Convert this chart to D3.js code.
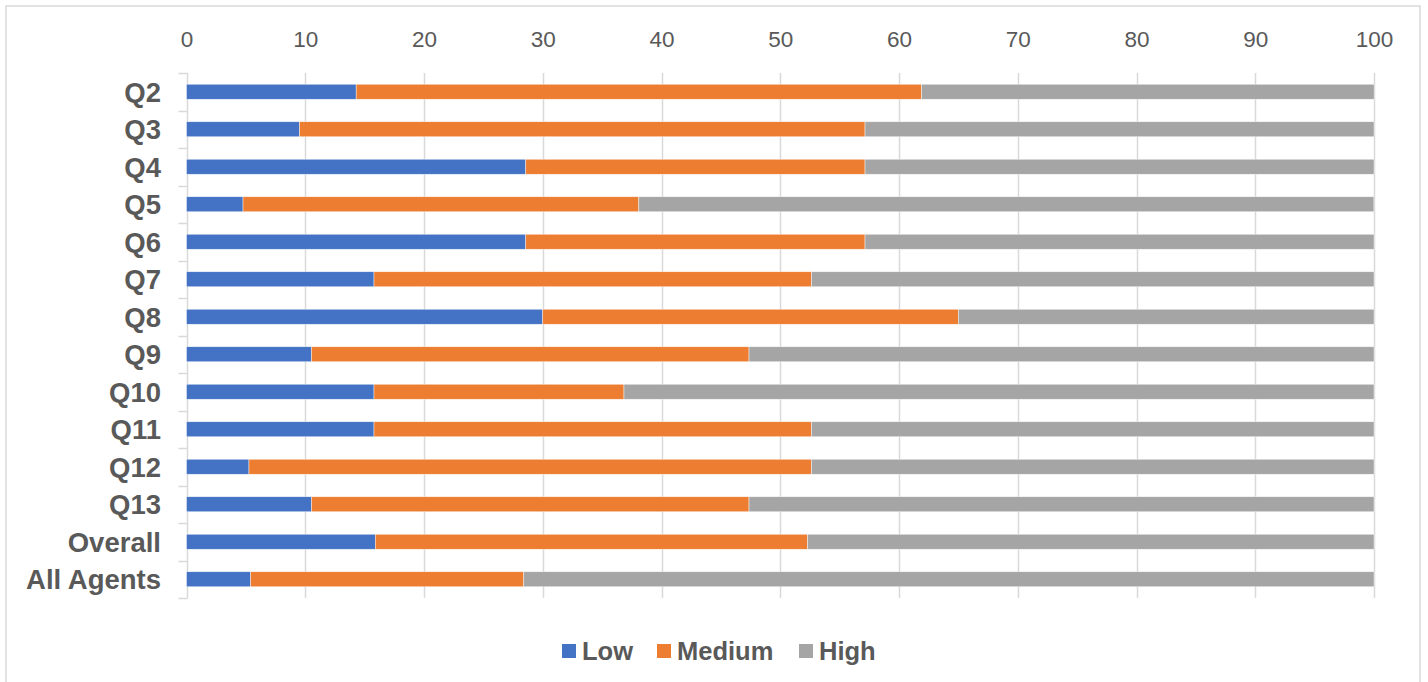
<!DOCTYPE html>
<html>
<head>
<meta charset="utf-8">
<script src="https://cdn.jsdelivr.net/npm/d3@7"></script>
<style>
  html, body { margin: 0; padding: 0; background: #fff; }
  svg { display: block; }
</style>
</head>
<body>
<svg id="chart" width="1428" height="682"></svg>
<script>
const categories = ["Q2","Q3","Q4","Q5","Q6","Q7","Q8","Q9","Q10","Q11","Q12","Q13","Overall","All Agents"];
const low    = [14.29, 9.52, 28.57, 4.76, 28.57, 15.79, 30, 10.53, 15.79, 15.79, 5.26, 10.53, 15.9, 5.4];
const medium = [47.62, 47.62, 28.57, 33.33, 28.57, 36.84, 35, 36.84, 21.05, 36.84, 47.37, 36.84, 36.4, 23.0];
const high   = [38.10, 42.86, 42.86, 61.90, 42.86, 47.37, 35, 52.63, 63.16, 47.37, 47.37, 52.63, 47.7, 71.6];
const seriesNames = ["Low", "Medium", "High"];
const seriesColors = ["#4472C4", "#ED7D31", "#A5A5A5"];
const xTicks = [0,10,20,30,40,50,60,70,80,90,100];

(function () {
const rows = categories.map((c, i) => ({cat: c, Low: low[i], Medium: medium[i], High: high[i]}));
const stacked = d3.stack().keys(seriesNames)(rows);

const svg = d3.select("#chart");

// outer border (bottom edge falls outside the picture)
svg.append("rect").attr("x", 6).attr("y", 6).attr("width", 1414).attr("height", 690)
  .attr("fill", "#fff").attr("stroke", "#d9d9d9").attr("stroke-width", 1.5);

const pL = 186.5, pR = 1374, pT = 73, pB = 598;
const x = d3.scaleLinear().domain([0, 100]).range([pL, pR]);
const y = d3.scaleBand().domain(categories).range([pT, pB]).paddingInner(0.6).paddingOuter(0.3);
const yb = d3.scaleBand().domain(categories).range([pT, pB]);

// gridlines
svg.append("g").selectAll("line").data(xTicks.slice(1)).join("line")
  .attr("x1", d => Math.round(x(d)) + 0.5).attr("x2", d => Math.round(x(d)) + 0.5)
  .attr("y1", pT).attr("y2", pB)
  .attr("stroke", "#d9d9d9").attr("stroke-width", 1.5);

// top axis labels
const xAxis = d3.axisTop(x).tickValues(xTicks).tickSize(0).tickPadding(0);
const gx = svg.append("g").attr("transform", `translate(0, ${47})`).call(xAxis);
gx.select(".domain").remove();
gx.selectAll("text").attr("font-family", "'Liberation Sans', Arial, sans-serif")
  .attr("font-size", 22.5).attr("fill", "#595959");

// left axis line and ticks at band boundaries
const axisX = Math.round(pL) + 0.5;
svg.append("line").attr("x1", axisX).attr("x2", axisX).attr("y1", pT).attr("y2", pB)
  .attr("stroke", "#d9d9d9").attr("stroke-width", 1.5);
const boundaries = categories.map(c => yb(c)).concat([pB]);
svg.append("g").selectAll("line").data(boundaries).join("line")
  .attr("x1", axisX - 9).attr("x2", axisX).attr("y1", d => Math.round(d) + 0.5).attr("y2", d => Math.round(d) + 0.5)
  .attr("stroke", "#d9d9d9").attr("stroke-width", 1.5);

// y labels
svg.append("g").selectAll("text").data(categories).join("text")
  .attr("x", 161).attr("y", d => yb(d) + yb.bandwidth() / 2)
  .attr("dy", "0.36em").attr("text-anchor", "end")
  .attr("font-family", "'Liberation Sans', Arial, sans-serif").attr("font-weight", "bold")
  .attr("font-size", 27.5).attr("fill", "#595959").text(d => d);

// bars
svg.append("g").selectAll("g").data(stacked).join("g")
  .attr("fill", (d, i) => seriesColors[i])
  .selectAll("rect").data(d => d).join("rect")
  .attr("x", d => x(d[0])).attr("width", d => x(d[1]) - x(d[0]))
  .attr("y", d => y(d.data.cat)).attr("height", y.bandwidth())
  .attr("stroke", "#ffffff").attr("stroke-width", 0.6).attr("stroke-opacity", 0.7);

// legend
const legendX = [562, 657, 799];
const lg = svg.append("g");
seriesNames.forEach((name, i) => {
  lg.append("rect").attr("x", legendX[i]).attr("y", 644).attr("width", 14).attr("height", 14)
    .attr("fill", seriesColors[i]);
  lg.append("text").attr("x", legendX[i] + 20).attr("y", 651).attr("dy", "0.36em")
    .attr("font-family", "'Liberation Sans', Arial, sans-serif").attr("font-weight", "bold")
    .attr("font-size", 25.5).attr("fill", "#595959").text(name);
});
})();
</script>
</body>
</html>
